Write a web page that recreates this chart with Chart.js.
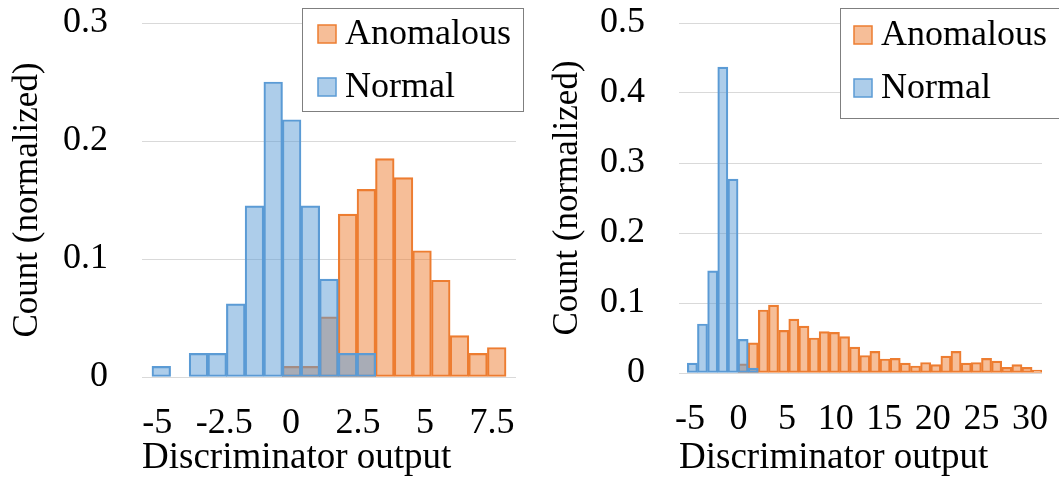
<!DOCTYPE html>
<html>
<head>
<meta charset="utf-8">
<script src="https://cdn.jsdelivr.net/npm/chart.js@4.4.0/dist/chart.umd.min.js"></script>
<style>
  html, body { margin: 0; padding: 0; background: #fff; }
  #wrap { position: relative; width: 1059px; height: 479px; overflow: hidden; }
  .panel { position: absolute; top: 0; height: 479px; }
  #leftPanel { left: 0; width: 530px; }
  #rightPanel { left: 530px; width: 529px; }
</style>
</head>
<body>
<div id="wrap">
  <div class="panel" id="leftPanel"><canvas id="leftChart"></canvas></div>
  <div class="panel" id="rightPanel"><canvas id="rightChart"></canvas></div>
</div>
<script>
// series names (legend order)
const seriesNames = ['Anomalous', 'Normal'];

// left panel: bin centres and normalized counts
const leftBins = [-4.85, -4.15, -3.46, -2.76, -2.07, -1.37, -0.67, 0.02, 0.72, 1.41,
                  2.11, 2.81, 3.50, 4.20, 4.89, 5.59, 6.29, 6.98, 7.68];
const leftAnomalous = [0, 0, 0, 0, 0, 0, 0, 0.009, 0.009, 0.051,
                       0.138, 0.159, 0.185, 0.169, 0.107, 0.082, 0.035, 0.020, 0.025];
const leftNormal = [0.009, 0, 0.020, 0.020, 0.062, 0.145, 0.250, 0.218, 0.145, 0.083,
                    0.020, 0.020, 0, 0, 0, 0, 0, 0, 0];
const leftXTicks = [-5, -2.5, 0, 2.5, 5, 7.5];

// right panel
const rightBins = [-4.75, -3.71, -2.66, -1.62, -0.57, 0.47, 1.51, 2.56, 3.60, 4.65,
                   5.69, 6.73, 7.78, 8.82, 9.87, 10.91, 11.95, 13.00, 14.04, 15.09,
                   16.13, 17.17, 18.22, 19.26, 20.31, 21.35, 22.39, 23.44, 24.48, 25.53,
                   26.57, 27.61, 28.66, 29.70, 30.75];
const rightAnomalous = [0, 0, 0, 0, 0, 0.013, 0.043, 0.090, 0.097, 0.061,
                        0.077, 0.067, 0.050, 0.059, 0.058, 0.052, 0.037, 0.025, 0.031, 0.020,
                        0.021, 0.014, 0.010, 0.015, 0.012, 0.024, 0.031, 0.014, 0.015, 0.021,
                        0.017, 0.008, 0.012, 0.008, 0.004];
const rightNormal = [0.014, 0.070, 0.146, 0.437, 0.277, 0.048, 0.007, 0, 0, 0,
                     0, 0, 0, 0, 0, 0, 0, 0, 0, 0,
                     0, 0, 0, 0, 0, 0, 0, 0, 0, 0,
                     0, 0, 0, 0, 0];
const rightXTicks = [-5, 0, 5, 10, 15, 20, 25, 30];

const FONT = '"Liberation Serif", "Times New Roman", serif';
const orangeFill = 'rgba(237, 125, 49, 0.5)';
const orangeLine = 'rgb(237, 125, 49)';
const blueFill = 'rgba(91, 155, 213, 0.5)';
const blueLine = 'rgb(91, 155, 213)';

// legend drawn inside a framed box
const boxLegend = {
    id: 'boxLegend',
    afterDraw(chart, args, opts) {
        const ctx = chart.ctx;
        ctx.save();
        ctx.fillStyle = '#fff';
        ctx.fillRect(opts.x, opts.y, opts.w, opts.h);
        ctx.strokeStyle = '#7f7f7f';
        ctx.lineWidth = 1;
        ctx.strokeRect(opts.x + 0.5, opts.y + 0.5, opts.w, opts.h);
        ctx.font = '36px ' + FONT;
        ctx.textBaseline = 'middle';
        chart.data.datasets.forEach(function (ds, i) {
            const cy = opts.y + opts.firstRow + i * opts.rowGap;
            const sx = opts.x + opts.swatchX;
            ctx.fillStyle = ds.backgroundColor;
            ctx.fillRect(sx, cy - 9, 18, 18);
            ctx.strokeStyle = ds.borderColor;
            ctx.lineWidth = 1.5;
            ctx.strokeRect(sx, cy - 9, 18, 18);
            ctx.fillStyle = '#000';
            ctx.fillText(ds.label, sx + 27, cy + 1);
        });
        ctx.restore();
    }
};

function points(bins, values) {
    return bins.map((b, i) => ({ x: b, y: values[i] > 0 ? values[i] : null }));
}

function makeChart(id, cfg) {
    const ctx = document.getElementById(id).getContext('2d');
    const barStyle = {
        borderWidth: 1.5,
        borderSkipped: false,
        grouped: false,
        barThickness: cfg.barWidth
    };
    return new Chart(ctx, {
        type: 'bar',
        data: {
            datasets: [Object.assign({
                label: seriesNames[0],
                data: points(cfg.bins, cfg.anomalous),
                backgroundColor: orangeFill,
                borderColor: orangeLine,
                order: 1
            }, barStyle), Object.assign({
                label: seriesNames[1],
                data: points(cfg.bins, cfg.normal),
                backgroundColor: blueFill,
                borderColor: blueLine,
                order: 0   // normal bars sit on top
            }, barStyle)]
        },
        options: {
            responsive: true,
            maintainAspectRatio: false,
            animation: false,
            layout: { padding: { top: 23, right: cfg.padRight, left: 0, bottom: 0 } },
            plugins: {
                legend: { display: false },
                tooltip: { enabled: false },
                boxLegend: cfg.legend
            },
            scales: {
                x: {
                    type: 'linear',
                    offset: false,
                    min: cfg.xMin,
                    max: cfg.xMax,
                    afterBuildTicks: function (scale) {
                        scale.ticks = cfg.xTicks.map(v => ({ value: v }));
                    },
                    afterFit: function (scale) {
                        scale.height = cfg.xHeight;
                        scale.paddingLeft = 0;
                        scale.paddingRight = 0;
                    },
                    grid: { display: false },
                    border: { display: false },
                    ticks: {
                        color: '#000',
                        font: { family: FONT, size: 36, lineHeight: 1 },
                        padding: 21,
                        maxRotation: 0,
                        autoSkip: false,
                        callback: v => String(v)
                    },
                    title: {
                        display: true,
                        align: 'start',
                        text: 'Discriminator output',
                        color: '#000',
                        font: { family: FONT, size: 37, lineHeight: 1 },
                        padding: { top: 0, bottom: 2 }
                    }
                },
                y: {
                    min: 0,
                    max: cfg.yMax,
                    afterFit: function (scale) {
                        scale.width = cfg.yWidth;
                        scale.paddingTop = 0;
                        scale.paddingBottom = 0;
                    },
                    grid: { color: '#d9d9d9', lineWidth: 1, drawTicks: false },
                    border: { display: false },
                    ticks: {
                        stepSize: 0.1,
                        color: '#000',
                        font: { family: FONT, size: 36, lineHeight: 1 },
                        padding: 34
                    },
                    title: {
                        display: true,
                        text: 'Count (normalized)',
                        color: '#000',
                        font: { family: FONT, size: 35, lineHeight: 1 },
                        padding: { top: cfg.titlePad, bottom: 0 }
                    }
                }
            }
        },
        plugins: [boxLegend]
    });
}

makeChart('leftChart', {
    bins: leftBins, anomalous: leftAnomalous, normal: leftNormal, xTicks: leftXTicks,
    xMin: -5.57, xMax: 8.40, yMax: 0.3, barWidth: 18.65,
    padRight: 14, yWidth: 142, xHeight: 102, titlePad: 10,
    legend: { x: 302, y: 8, w: 221, h: 103, swatchX: 16, firstRow: 26, rowGap: 53 }
});

makeChart('rightChart', {
    bins: rightBins, anomalous: rightAnomalous, normal: rightNormal, xTicks: rightXTicks,
    xMin: -6.13, xMax: 31.24, yMax: 0.5, barWidth: 10.14,
    padRight: 17, yWidth: 149, xHeight: 106, titlePad: 20,
    legend: { x: 310, y: 8, w: 230, h: 110, swatchX: 14, firstRow: 27, rowGap: 53 }
});
</script>
</body>
</html>
